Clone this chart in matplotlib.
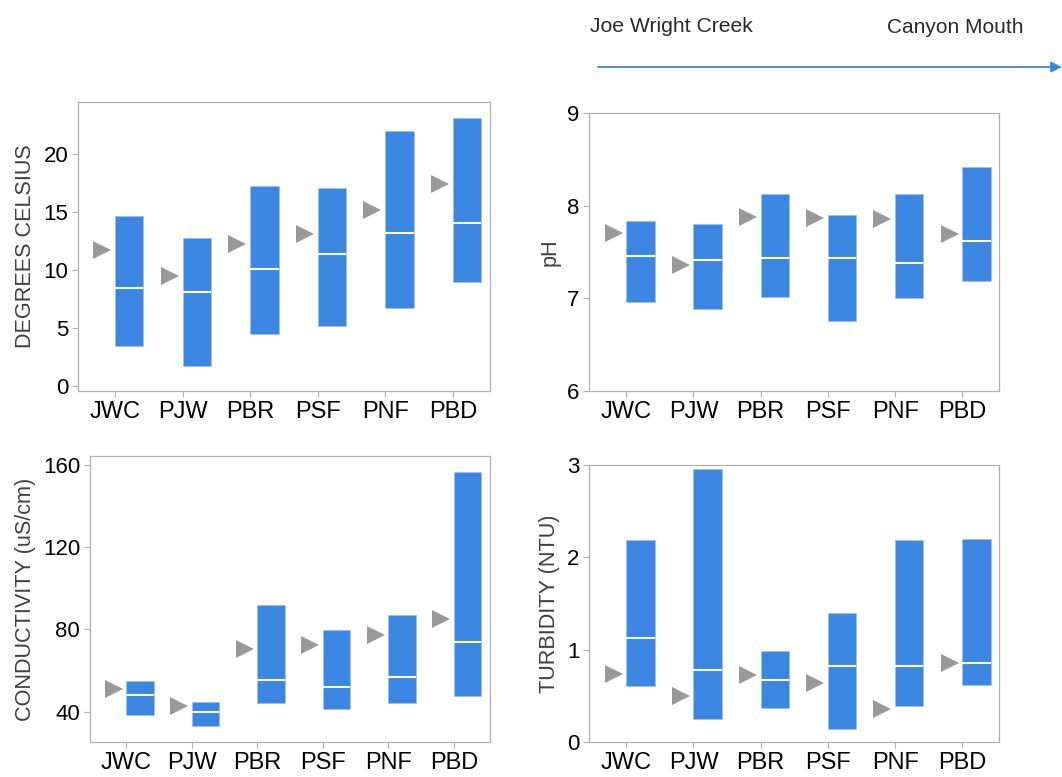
import matplotlib
matplotlib.use("Agg")
import matplotlib.pyplot as plt
import numpy as np

sites = ["JWC", "PJW", "PBR", "PSF", "PNF", "PBD"]

temp_low = [3.45, 1.73, 4.46, 5.18, 6.7, 8.92]
temp_high = [14.68, 12.8, 17.27, 17.09, 22.0, 23.14]
temp_median = [8.4, 8.09, 10.1, 11.34, 13.15, 14.04]
temp_mean = [11.74, 9.44, 12.26, 13.12, 15.14, 17.38]

ph_low = [6.96, 6.89, 7.02, 6.76, 7.0, 7.19]
ph_high = [7.84, 7.8, 8.13, 7.9, 8.13, 8.42]
ph_median = [7.46, 7.42, 7.44, 7.44, 7.38, 7.62]
ph_mean = [7.71, 7.36, 7.88, 7.87, 7.86, 7.70]

cond_low = [38.2, 33.2, 44.4, 41.5, 44.4, 47.5]
cond_high = [54.8, 44.5, 92.1, 79.9, 87.0, 156.6]
cond_median = [48.1, 39.7, 55.2, 52.0, 57.0, 74.1]
cond_mean = [51.0, 42.9, 70.3, 72.4, 77.3, 85.1]

turb_low = [0.61, 0.25, 0.37, 0.145, 0.395, 0.62]
turb_high = [2.19, 2.96, 0.99, 1.40, 2.19, 2.20]
turb_median = [1.13, 0.78, 0.67, 0.82, 0.82, 0.86]
turb_mean = [0.74, 0.50, 0.73, 0.645, 0.36, 0.86]

BAR = "#3a86e0"
TRI = "#999999"
SPINE = "#b0b0b0"

fig = plt.figure(figsize=(10.62, 7.77), dpi=100)
plt.rcParams['font.family'] = ['Liberation Sans', 'DejaVu Sans']

panels = [
    ([0.0734, 0.4968, 0.388, 0.3719], temp_low, temp_high, temp_median, temp_mean,
     "DEGREES CELSIUS", (-0.45, 24.5), [0, 5, 10, 15, 20]),
    ([0.5549, 0.4968, 0.3861, 0.3574], ph_low, ph_high, ph_median, ph_mean,
     "pH", (6, 9), [6, 7, 8, 9]),
    ([0.0847, 0.0447, 0.3767, 0.3684], cond_low, cond_high, cond_median, cond_mean,
     "CONDUCTIVITY (uS/cm)", (25.1, 164.4), [40, 80, 120, 160]),
    ([0.5549, 0.0447, 0.3861, 0.3568], turb_low, turb_high, turb_median, turb_mean,
     "TURBIDITY (NTU)", (0, 3), [0, 1, 2, 3]),
]

x = np.arange(len(sites))
w = 0.42
for rect, lo, hi, med, mean, lab, ylim, yt in panels:
    ax = fig.add_axes(rect)
    lo = np.array(lo); hi = np.array(hi)
    ax.bar(x, hi - lo, bottom=lo, width=w, align='edge', color=BAR,
           edgecolor="#9cc4f0", linewidth=0.6, zorder=2)
    for xi, m in zip(x, med):
        ax.plot([xi, xi + w], [m, m], color="white", lw=1.5, zorder=3,
                solid_capstyle='butt')
    ax.plot(x - 0.19, mean, linestyle='none', marker='>', markersize=12.5,
            color=TRI, markeredgewidth=0, zorder=3)
    ax.set_xlim(-0.55, 5.55)
    ax.set_ylim(*ylim)
    ax.set_yticks(yt)
    ax.set_xticks(x)
    ax.set_xticklabels(sites)
    ax.tick_params(axis='y', labelsize=16, pad=3)
    ax.tick_params(axis='x', labelsize=17, pad=3)
    ax.tick_params(axis='both', color=SPINE, length=4, width=0.8,
                   labelcolor='black')
    ax.set_ylabel(lab, fontsize=15.6, color='#404040', labelpad=5)
    for s in ax.spines.values():
        s.set_color(SPINE)
        s.set_linewidth(0.9)

tfont = ['Liberation Sans Narrow', 'Liberation Sans', 'DejaVu Sans']
fig.text(590 / 1062, 1 - 32 / 777, "Joe Wright Creek", fontsize=15.2,
         color='#2a2a2a', va='baseline', ha='left', family=tfont)
fig.text(887 / 1062, 1 - 33 / 777, "Canyon Mouth", fontsize=15.0,
         color='#2a2a2a', va='baseline', ha='left', family=tfont)
fig.add_artist(matplotlib.patches.FancyArrowPatch(
    (598 / 1062, 1 - 67 / 777), (1.0, 1 - 67 / 777),
    transform=fig.transFigure, arrowstyle='-|>', mutation_scale=16,
    color=BAR, lw=1.3, shrinkA=0, shrinkB=0))

fig.savefig("out.png", dpi=100)
